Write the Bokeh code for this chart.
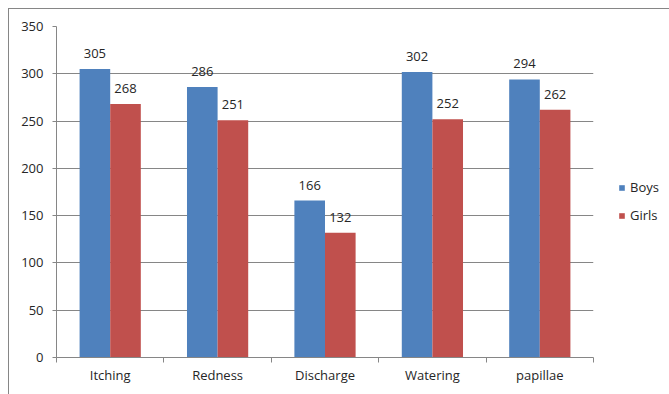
from bokeh.plotting import figure
from bokeh.layouts import row
from bokeh.models import Range1d, FixedTicker, ColumnDataSource, Legend, LegendItem, LabelSet
from bokeh.core.properties import value
from bokeh.embed import file_html
from bokeh.resources import INLINE

categories = ["Itching", "Redness", "Discharge", "Watering", "papillae"]
boys = [305, 286, 166, 302, 294]
girls = [268, 251, 132, 252, 262]
y_ticks = [0, 50, 100, 150, 200, 250, 300, 350]
series_names = ["Boys", "Girls"]

FONT = "Open Sans"
TXT = "#262626"
GRID = "#868686"
BLUE = "#4F81BD"
RED = "#C0504D"

bw = 0.285
idx = list(range(len(categories)))
src = ColumnDataSource(dict(
    xb=[i + 0.5 - bw / 2 for i in idx],
    xg=[i + 0.5 + bw / 2 for i in idx],
    boys=boys, girls=girls,
    lb=[str(v) for v in boys], lg=[str(v) for v in girls],
))

p = figure(width=600, height=386, output_backend="svg", toolbar_location=None,
           x_range=Range1d(0, len(categories)), y_range=Range1d(0, 350),
           min_border_left=47, min_border_right=16, min_border_top=17, min_border_bottom=38)
p.outline_line_color = None
p.background_fill_color = "white"
p.border_fill_color = "white"

rb = p.vbar(x="xb", top="boys", width=bw, bottom=0, source=src, fill_color=BLUE, line_color=None)
rg = p.vbar(x="xg", top="girls", width=bw, bottom=0, source=src, fill_color=RED, line_color=None)

for xcol, ycol, tcol in (("xb", "boys", "lb"), ("xg", "girls", "lg")):
    p.add_layout(LabelSet(x=xcol, y=ycol, text=tcol, source=src, text_align="center",
                          text_baseline="bottom", y_offset=11, text_font=value(FONT),
                          text_font_size=value("13px"), text_color=TXT))

# x axis
p.xaxis.ticker = FixedTicker(ticks=[i + 0.5 for i in idx], minor_ticks=list(range(len(categories) + 1)))
p.xaxis.major_label_overrides = {i + 0.5: c for i, c in zip(idx, categories)}
p.xaxis.major_tick_out = 0
p.xaxis.major_tick_in = 0
p.xaxis.minor_tick_out = 5
p.xaxis.minor_tick_in = 0
p.xaxis.minor_tick_line_color = GRID
p.xaxis.axis_line_color = GRID
p.xaxis.major_label_standoff = 3
p.xaxis.major_label_text_font = FONT
p.xaxis.major_label_text_font_size = "13px"
p.xaxis.major_label_text_color = TXT
p.xgrid.visible = False

# y axis
p.yaxis.ticker = FixedTicker(ticks=y_ticks, minor_ticks=[])
p.yaxis.major_tick_out = 4
p.yaxis.major_tick_in = 0
p.yaxis.major_tick_line_color = GRID
p.yaxis.axis_line_color = GRID
p.yaxis.major_label_standoff = 9
p.yaxis.major_label_text_font = FONT
p.yaxis.major_label_text_font_size = "13px"
p.yaxis.major_label_text_color = TXT
p.ygrid.grid_line_color = GRID
p.ygrid.ticker = FixedTicker(ticks=y_ticks)

# legend panel (its renderers are hidden; they only supply the legend swatches)
lf = figure(width=61, height=386, output_backend="svg", toolbar_location=None,
            x_range=Range1d(0, 1), y_range=Range1d(0, 1),
            min_border_left=0, min_border_right=0, min_border_top=0, min_border_bottom=0)
lf.axis.visible = False
lf.grid.visible = False
lf.outline_line_color = None
lb_r = lf.vbar(x="xb", top="boys", width=bw, source=src, fill_color=BLUE, line_color=None, visible=False)
lg_r = lf.vbar(x="xg", top="girls", width=bw, source=src, fill_color=RED, line_color=None, visible=False)
legend = Legend(items=[LegendItem(label=series_names[0], renderers=[lb_r]),
                       LegendItem(label=series_names[1], renderers=[lg_r])],
                location=(9, 132), orientation="vertical", click_policy="none",
                glyph_width=7, glyph_height=7, label_height=20, spacing=8,
                label_standoff=5, padding=0, margin=0,
                inactive_fill_alpha=0,
                border_line_color=None, background_fill_alpha=0,
                label_text_font=FONT, label_text_font_size="13px", label_text_color=TXT)
lf.add_layout(legend, "center")

layout = row(p, lf, margin=(8, 0, 0, 8),
             styles={"border-left": "1px solid #868686", "border-top": "1px solid #868686"})

open("out.html", "w").write(file_html(layout, INLINE))
